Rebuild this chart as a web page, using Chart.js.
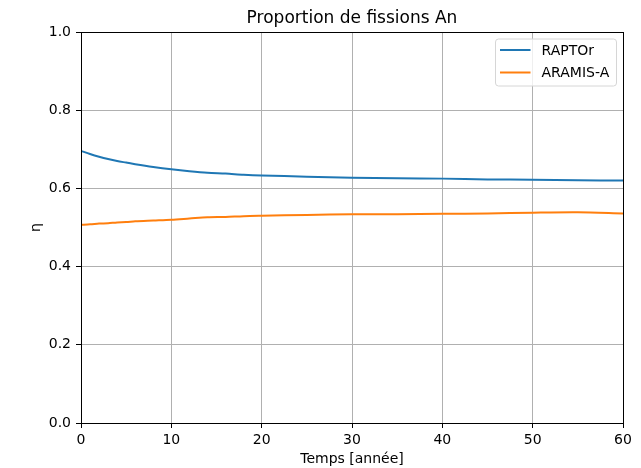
<!DOCTYPE html>
<html>
<head>
<meta charset="utf-8">
<script src="https://cdn.jsdelivr.net/npm/chart.js@4/dist/chart.umd.min.js"></script>
<style>
    html, body { margin: 0; padding: 0; background: #fff; }
    #wrap { width: 641px; height: 468px; }
</style>
</head>
<body>
<div id="wrap"><canvas id="chart" width="641" height="468"></canvas></div>
<script>
// annees
var years = [0, 1, 2, 3, 4, 5, 6, 8, 10, 12, 14, 16, 18, 20, 25, 30, 35, 40, 45, 50, 55, 60];
// proportion de fissions An
var raptor = [0.696, 0.688, 0.681, 0.675, 0.670, 0.666, 0.662, 0.655, 0.649, 0.644, 0.640,
              0.638, 0.635, 0.633, 0.630, 0.627, 0.626, 0.625, 0.623, 0.622, 0.621, 0.620];
var aramis = [0.507, 0.508, 0.510, 0.511, 0.513, 0.514, 0.516, 0.518, 0.520, 0.523, 0.526,
              0.527, 0.529, 0.530, 0.532, 0.534, 0.534, 0.535, 0.536, 0.538, 0.539, 0.536];
var seriesNames = ['RAPTOr', 'ARAMIS-A'];
var xTicks = [0, 10, 20, 30, 40, 50, 60];
var yTicks = [0.0, 0.2, 0.4, 0.6, 0.8, 1.0];

var FONT = 'DejaVu Sans';

function toPoints(xs, ys) {
    return xs.map(function (x, i) { return { x: x, y: ys[i] }; });
}

// cadre noir autour de la zone de trace
var framePlugin = {
    id: 'frame',
    afterDatasetsDraw: function (chart) {
        var a = chart.chartArea, ctx = chart.ctx;
        ctx.save();
        ctx.strokeStyle = '#000';
        ctx.lineWidth = 1;
        ctx.strokeRect(Math.round(a.left) + 0.5, Math.round(a.top) + 0.5,
                       Math.round(a.right - a.left), Math.round(a.bottom - a.top));
        ctx.restore();
    }
};

// legende a l'interieur, en haut a droite (style matplotlib)
var innerLegend = {
    id: 'innerLegend',
    afterDraw: function (chart) {
        var ctx = chart.ctx, a = chart.chartArea;
        var w = 121, h = 47;
        var x = a.right - 6.5 - w, y = a.top + 7;
        ctx.save();
        ctx.beginPath();
        ctx.roundRect(x, y, w, h, 3);
        ctx.fillStyle = 'rgba(255,255,255,0.8)';
        ctx.fill();
        ctx.strokeStyle = '#d6d6d6';
        ctx.lineWidth = 1;
        ctx.stroke();
        ctx.font = '14px ' + FONT;
        ctx.textBaseline = 'middle';
        ctx.fillStyle = '#000';
        chart.data.datasets.forEach(function (ds, i) {
            var ly = y + 11 + i * 22.5;
            ctx.beginPath();
            ctx.moveTo(x + 4.5, ly);
            ctx.lineTo(x + 35, ly);
            ctx.strokeStyle = ds.borderColor;
            ctx.lineWidth = 2;
            ctx.stroke();
            ctx.fillText(ds.label, x + 46, ly + 1);
        });
        ctx.restore();
    }
};

new Chart(document.getElementById('chart'), {
    type: 'line',
    data: {
        datasets: [
            { label: seriesNames[0], data: toPoints(years, raptor), borderColor: '#1f77b4', borderWidth: 2, pointRadius: 0, tension: 0.3 },
            { label: seriesNames[1], data: toPoints(years, aramis), borderColor: '#ff7f0e', borderWidth: 2, pointRadius: 0, tension: 0.3 }
        ]
    },
    options: {
        responsive: false,
        animation: false,
        layout: { padding: { left: 0, right: 18, top: 0, bottom: 0 } },
        plugins: {
            legend: { display: false },
            tooltip: { enabled: false },
            title: {
                display: true,
                fullSize: false,
                text: 'Proportion de fissions An',
                color: '#000',
                font: { family: FONT, size: 17, weight: 'normal' },
                padding: { top: 8.8, bottom: 2.8 }
            }
        },
        scales: {
            x: {
                type: 'linear',
                min: 0, max: 60,
                afterFit: function (s) { s.height = 45; },
                afterBuildTicks: function (s) { s.ticks = xTicks.map(function (v) { return { value: v }; }); },
                grid: { color: '#b0b0b0', lineWidth: 1, tickColor: '#000', tickLength: 5, drawTicks: true },
                border: { display: true, color: '#000', width: 1 },
                ticks: { color: '#000', padding: 4, maxRotation: 0, font: { family: FONT, size: 14 },
                         callback: function (v) { return String(v); } },
                title: { display: true, text: 'Temps [année]', color: '#000',
                         font: { family: FONT, size: 14 }, padding: { top: 0, bottom: 0.6 } }
            },
            y: {
                min: 0, max: 1,
                afterFit: function (s) { s.width = 81; },
                afterBuildTicks: function (s) { s.ticks = yTicks.map(function (v) { return { value: v }; }); },
                grid: { color: '#b0b0b0', lineWidth: 1, tickColor: '#000', tickLength: 5, drawTicks: true },
                border: { display: true, color: '#000', width: 1 },
                ticks: { color: '#000', padding: 5, font: { family: FONT, size: 14 },
                         callback: function (v) { return v.toFixed(1); } },
                title: { display: true, text: 'η', color: '#000',
                         font: { family: FONT, size: 14 }, padding: { top: 28, bottom: 0 } }
            }
        }
    },
    plugins: [framePlugin, innerLegend]
});
</script>
</body>
</html>
